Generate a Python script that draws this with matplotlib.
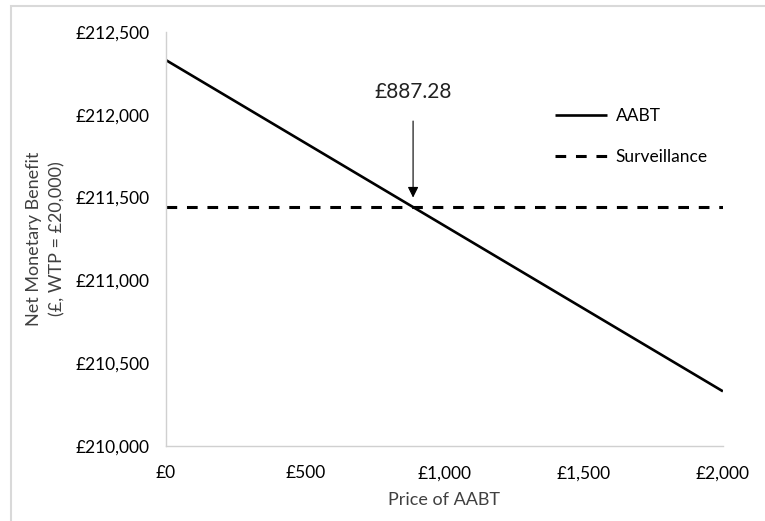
import matplotlib.pyplot as plt
from matplotlib.patches import Rectangle
from matplotlib.ticker import FuncFormatter

plt.rcParams['font.family'] = ['Lato', 'DejaVu Sans']

price = [0, 2000]
aabt = [212330, 210330]
surveillance = [211442.7, 211442.7]
threshold = 887.28

fig = plt.figure(figsize=(7.65, 5.21), dpi=100)
ax = fig.add_axes([0.217, 0.144, 0.728, 0.7946])

# light frame around the chart area (only top/left visible in original)
fig.patches.append(Rectangle((11 / 765, -0.1), 1.2, 1.1 - 6 / 521, transform=fig.transFigure,
                             fill=False, edgecolor='#d9d9d9', linewidth=1.5))

ax.plot(price, aabt, color='black', linewidth=1.9, label='AABT', solid_capstyle='butt')
ax.plot(price, surveillance, color='black', linewidth=2.2, dashes=(3.5, 3.2),
        dash_capstyle='butt', label='Surveillance')

ax.annotate(f'£{threshold:.2f}', xy=(threshold, 211500), xytext=(threshold, 212140),
            ha='center', va='center', fontsize=15, color='#222222',
            arrowprops=dict(arrowstyle='-|>', color='black', lw=0.8,
                            mutation_scale=16, shrinkA=12, shrinkB=0))

ax.set_xlim(0, 2000)
ax.set_ylim(210000, 212500)
ax.set_xticks([0, 500, 1000, 1500, 2000])
ax.set_yticks([210000, 210500, 211000, 211500, 212000, 212500])
ax.xaxis.set_major_formatter(FuncFormatter(lambda v, p: f'£{v:,.0f}'))
ax.yaxis.set_major_formatter(FuncFormatter(lambda v, p: f'£{v:,.0f}'))
ax.tick_params(length=0, labelsize=12.5, colors='black')
ax.tick_params(axis='y', pad=12)
ax.tick_params(axis='x', pad=14)

for s in ['top', 'right']:
    ax.spines[s].set_visible(False)
for s in ['left', 'bottom']:
    ax.spines[s].set_color('#d0d0d0')
    ax.spines[s].set_linewidth(1.0)

ax.set_xlabel('Price of AABT', fontsize=13, color='#404040')
ax.xaxis.set_label_coords(0.5, -0.11)
ax.set_ylabel('Net Monetary Benefit\n(£, WTP = £20,000)', fontsize=13, color='#404040',
              linespacing=1.55)
ax.yaxis.set_label_coords(-0.181, 0.5)

ax.legend(loc='upper left', bbox_to_anchor=(0.67, 0.855), frameon=False, fontsize=12.5,
          handlelength=3.0, labelspacing=1.45, handletextpad=0.5)

fig.savefig('out.png', dpi=100)
